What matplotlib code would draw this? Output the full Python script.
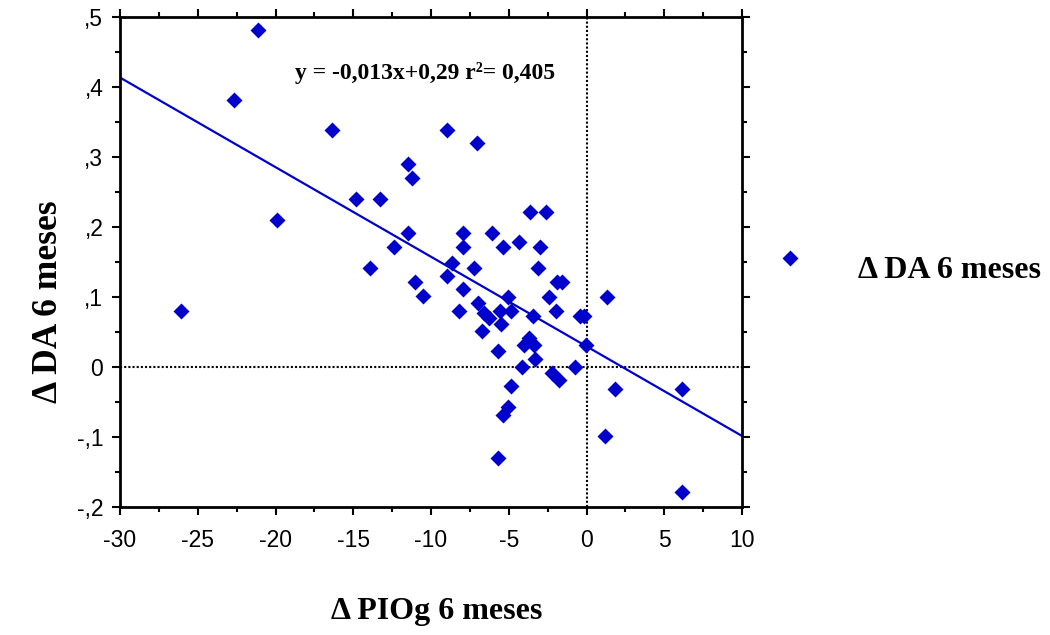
import matplotlib
matplotlib.use("Agg")
import matplotlib.pyplot as plt
import numpy as np
from matplotlib.lines import Line2D
from matplotlib.ticker import FixedLocator, FixedFormatter, MultipleLocator

# ---- data ----
piog = [-26.1, -21.1, -22.7, -19.9, -16.35, -14.8, -13.9, -13.3, -12.4, -11.5,
        -11.2, -11.5, -11.0, -10.5, -8.96, -7.07, -8.96, -8.62, -7.93, -7.93,
        -7.93, -8.23, -7.25, -7.0, -6.56, -6.24, -5.59, -4.84, -5.53, -6.71,
        -6.05, -5.36, -4.33, -2.96, -3.65, -2.62, -3.13, -1.9, -1.6, -5.02,
        -2.44, 1.33, -3.47, -1.93, -0.39, -0.17, -3.67, -3.99, -3.39, -3.28,
        -4.14, -0.71, -2.21, -1.74, -4.84, -0.06, -5.70, 1.85, 6.13, -5.02,
        -5.36, 1.16, -5.70, 6.13]
da = [0.080, 0.481, 0.381, 0.210, 0.339, 0.240, 0.141, 0.240, 0.172, 0.290,
      0.270, 0.191, 0.122, 0.101, 0.339, 0.320, 0.130, 0.149, 0.191, 0.172,
      0.111, 0.080, 0.141, 0.092, 0.077, 0.070, 0.080, 0.080, 0.062, 0.051,
      0.191, 0.172, 0.179, 0.172, 0.221, 0.221, 0.141, 0.122, 0.122, 0.100,
      0.100, 0.100, 0.073, 0.080, 0.073, 0.073, 0.041, 0.032, 0.032, 0.011,
      0.000, 0.000, -0.009, -0.018, -0.027, 0.031, 0.023, -0.031, -0.031, -0.057,
      -0.069, -0.099, -0.130, -0.178]

fit_slope = -0.0128
fit_intercept = 0.0295
fit_range = [-30, 10]

x_ticks = [-30, -25, -20, -15, -10, -5, 0, 5, 10]
x_tick_labels = ["-30", "-25", "-20", "-15", "-10", "-5", "0", "5", "10"]
y_ticks = [-0.2, -0.1, 0.0, 0.1, 0.2, 0.3, 0.4, 0.5]
y_tick_labels = ["-,2", "-,1", "0", ",1", ",2", ",3", ",4", ",5"]

equation_text = "y = -0,013x+0,29 r²= 0,405"
x_label = "Δ PIOg 6 meses"
y_label = "Δ DA 6 meses"
legend_label = "Δ DA 6 meses"

# ---- styling ----
blue = "#0000CC"
serif = "Liberation Serif"
sans = "Liberation Sans"

W, H = 1050, 635
fig = plt.figure(figsize=(W / 100, H / 100), dpi=100)
ax = fig.add_axes([120 / W, 1 - 507 / H, 622 / W, 490 / H])

ax.set_xlim(-30, 10)
ax.set_ylim(-0.2, 0.5)

# reference lines
ax.axvline(0, color="black", lw=1.5, ls=(0, (1, 1)), zorder=1)
ax.axhline(0, color="black", lw=1.5, ls=(0, (1, 1)), zorder=1)

# regression line
fx = np.array(fit_range, dtype=float)
ax.plot(fx, fit_slope * fx + fit_intercept, color=blue, lw=1.6, zorder=2)

# points
ax.plot(piog, da, ls="none", marker="D", ms=8.3, color=blue, mec="none", zorder=3)

# ticks
ax.xaxis.set_major_locator(FixedLocator(x_ticks))
ax.xaxis.set_major_formatter(FixedFormatter(x_tick_labels))
ax.xaxis.set_minor_locator(MultipleLocator(2.5))
ax.yaxis.set_major_locator(FixedLocator(y_ticks))
ax.yaxis.set_major_formatter(FixedFormatter(y_tick_labels))
ax.yaxis.set_minor_locator(MultipleLocator(0.05))
ax.tick_params(which="both", direction="out", top=True, right=True,
               width=1.5, color="black")
ax.tick_params(which="major", length=6, labelsize=16.5)
ax.tick_params(axis="x", which="major", pad=10)
ax.tick_params(axis="y", which="major", pad=6)
ax.tick_params(which="minor", length=3.5)
for lab in ax.get_xticklabels() + ax.get_yticklabels():
    lab.set_fontfamily(sans)
for sp in ax.spines.values():
    sp.set_linewidth(2)
    sp.set_color("black")

# equation
ax.text(0.49, 0.885, equation_text, transform=ax.transAxes, ha="center", va="center",
        fontsize=17, fontweight="bold", family=serif)

# axis labels
fig.text(437 / W, 1 - 612 / H, x_label, ha="center", va="center",
         fontsize=23, fontweight="bold", family=serif)
fig.text(49 / W, 1 - 302 / H, y_label, ha="center", va="center", rotation=90,
         fontsize=25.5, fontweight="bold", family=serif)

# legend (manual)
fig.add_artist(Line2D([790 / W], [1 - 258 / H], transform=fig.transFigure,
                      marker="D", ms=8.3, color=blue, mec="none", ls="none"))
fig.text(858 / W, 1 - 271 / H, legend_label, ha="left", va="center",
         fontsize=23, fontweight="bold", family=serif)

fig.savefig("out.png", dpi=100)
